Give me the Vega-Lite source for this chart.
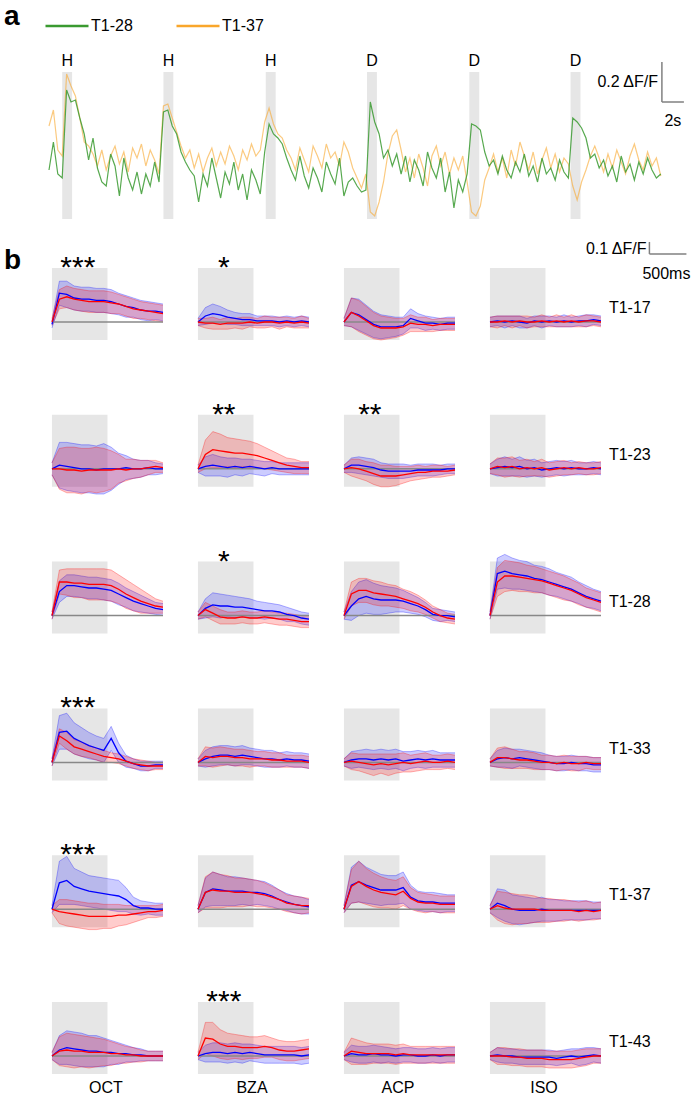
{
"$schema":"https://vega.github.io/schema/vega-lite/v6.json",
"padding":{"left":3,"top":2,"right":0,"bottom":0},
"background":"white",
"config":{"view":{"stroke":null},"font":"Liberation Sans","axis":{"disable":true}},
"bounds":"flush",
"spacing":42.4,
"vconcat":[
{
"width":614,"height":180,
"layer":[
{"data":{"values":[{"s":1.2,"e":2.1,"l":"H"},{"s":10.4,"e":11.3,"l":"H"},{"s":19.7,"e":20.6,"l":"H"},{"s":28.9,"e":29.8,"l":"D"},{"s":38.2,"e":39.1,"l":"D"},{"s":47.4,"e":48.3,"l":"D"}]},
"layer":[
{"mark":{"type":"rect","color":"#e6e6e6"},"encoding":{"x":{"field":"s","type":"quantitative","scale":{"domain":[0,55.8],"nice":false,"zero":false},"axis":null},"x2":{"field":"e"},"y":{"datum":45,"type":"quantitative","scale":{"domain":[-30,60],"nice":false,"zero":false},"axis":null},"y2":{"datum":-28.5}}},
{"mark":{"type":"text","fontSize":16,"dx":5,"align":"center","baseline":"alphabetic","color":"#000"},"encoding":{"x":{"field":"s","type":"quantitative","scale":{"domain":[0,55.8],"nice":false,"zero":false},"axis":null},"y":{"datum":48,"type":"quantitative","scale":{"domain":[-30,60],"nice":false,"zero":false},"axis":null},"text":{"field":"l"}}}
]},
{"data":{"values":[
{"t":0,"g":-4,"o":18},{"t":0.4,"g":10,"o":26},{"t":0.8,"g":-6,"o":6},{"t":1.2,"g":-8,"o":3},{"t":1.6,"g":36,"o":44},{"t":2,"g":30,"o":38},{"t":2.4,"g":31,"o":33},{"t":2.8,"g":22,"o":22},{"t":3.2,"g":14,"o":10},{"t":3.6,"g":1,"o":8},
{"t":4,"g":12,"o":4},{"t":4.4,"g":-3,"o":-2},{"t":4.8,"g":-10,"o":6},{"t":5.2,"g":-12,"o":-4},{"t":5.6,"g":4,"o":3},{"t":6,"g":-2,"o":8},{"t":6.4,"g":-17,"o":-1},{"t":6.8,"g":2,"o":5},{"t":7.2,"g":-8,"o":-5},{"t":7.6,"g":-14,"o":7},
{"t":8,"g":-5,"o":2},{"t":8.4,"g":-16,"o":9},{"t":8.8,"g":-6,"o":-2},{"t":9.2,"g":-12,"o":6},{"t":9.6,"g":0,"o":1},{"t":10,"g":-10,"o":-6},{"t":10.4,"g":25,"o":28},{"t":10.8,"g":26,"o":29},{"t":11.2,"g":18,"o":22},{"t":11.6,"g":14,"o":15},
{"t":12,"g":5,"o":8},{"t":12.4,"g":0,"o":2},{"t":12.8,"g":-4,"o":6},{"t":13.2,"g":-7,"o":-3},{"t":13.6,"g":-20,"o":4},{"t":14,"g":-6,"o":-5},{"t":14.4,"g":-12,"o":2},{"t":14.8,"g":2,"o":7},{"t":15.2,"g":-8,"o":-2},{"t":15.6,"g":-18,"o":5},
{"t":16,"g":-5,"o":-1},{"t":16.4,"g":-11,"o":8},{"t":16.8,"g":0,"o":3},{"t":17.2,"g":-14,"o":-4},{"t":17.6,"g":-6,"o":6},{"t":18,"g":-19,"o":1},{"t":18.4,"g":-4,"o":9},{"t":18.8,"g":-9,"o":3},{"t":19.2,"g":-16,"o":6},{"t":19.6,"g":5,"o":20},
{"t":20,"g":19,"o":27},{"t":20.4,"g":14,"o":19},{"t":20.8,"g":12,"o":14},{"t":21.2,"g":9,"o":12},{"t":21.6,"g":2,"o":6},{"t":22,"g":-4,"o":2},{"t":22.4,"g":-9,"o":-4},{"t":22.8,"g":3,"o":7},{"t":23.2,"g":-7,"o":1},{"t":23.6,"g":-13,"o":-5},
{"t":24,"g":-3,"o":8},{"t":24.4,"g":-8,"o":3},{"t":24.8,"g":-15,"o":-3},{"t":25.2,"g":0,"o":9},{"t":25.6,"g":-6,"o":2},{"t":26,"g":-11,"o":5},{"t":26.4,"g":2,"o":-2},{"t":26.8,"g":-17,"o":10},{"t":27.2,"g":-10,"o":5},{"t":27.6,"g":-8,"o":-3},
{"t":28,"g":-12,"o":-8},{"t":28.4,"g":-15,"o":-13},{"t":28.8,"g":-14,"o":-6},{"t":29.2,"g":30,"o":-25},{"t":29.6,"g":20,"o":-27},{"t":30,"g":14,"o":-20},{"t":30.4,"g":2,"o":-10},{"t":30.8,"g":6,"o":4},{"t":31.2,"g":-2,"o":13},{"t":31.6,"g":4,"o":16},
{"t":32,"g":-6,"o":6},{"t":32.4,"g":3,"o":-5},{"t":32.8,"g":-10,"o":2},{"t":33.2,"g":1,"o":-8},{"t":33.6,"g":-4,"o":4},{"t":34,"g":-12,"o":-3},{"t":34.4,"g":5,"o":-12},{"t":34.8,"g":-3,"o":3},{"t":35.2,"g":-8,"o":8},{"t":35.6,"g":2,"o":-2},
{"t":36,"g":-15,"o":5},{"t":36.4,"g":-5,"o":-6},{"t":36.8,"g":-23,"o":2},{"t":37.2,"g":-9,"o":-4},{"t":37.6,"g":-15,"o":3},{"t":38,"g":-6,"o":-10},{"t":38.4,"g":19,"o":-25},{"t":38.8,"g":18,"o":-27},{"t":39.2,"g":16,"o":-22},{"t":39.6,"g":5,"o":-9},
{"t":40,"g":-2,"o":-3},{"t":40.4,"g":1,"o":4},{"t":40.8,"g":-6,"o":-5},{"t":41.2,"g":3,"o":2},{"t":41.6,"g":-4,"o":-8},{"t":42,"g":-8,"o":6},{"t":42.4,"g":0,"o":-2},{"t":42.8,"g":-5,"o":10},{"t":43.2,"g":4,"o":3},{"t":43.6,"g":-7,"o":-4},
{"t":44,"g":-2,"o":5},{"t":44.4,"g":-10,"o":-6},{"t":44.8,"g":2,"o":1},{"t":45.2,"g":-6,"o":7},{"t":45.6,"g":-3,"o":-3},{"t":46,"g":-9,"o":4},{"t":46.4,"g":1,"o":-5},{"t":46.8,"g":-5,"o":2},{"t":47.2,"g":-8,"o":-1},{"t":47.6,"g":22,"o":-12},
{"t":48,"g":20,"o":-19},{"t":48.4,"g":17,"o":-10},{"t":48.8,"g":12,"o":-4},{"t":49.2,"g":2,"o":3},{"t":49.6,"g":4,"o":8},{"t":50,"g":-3,"o":2},{"t":50.4,"g":1,"o":-5},{"t":50.8,"g":-7,"o":4},{"t":51.2,"g":-2,"o":-3},{"t":51.6,"g":-10,"o":6},
{"t":52,"g":3,"o":0},{"t":52.4,"g":-5,"o":-6},{"t":52.8,"g":-1,"o":3},{"t":53.2,"g":-9,"o":9},{"t":53.6,"g":0,"o":1},{"t":54,"g":-6,"o":-4},{"t":54.4,"g":2,"o":5},{"t":54.8,"g":-4,"o":-2},{"t":55.2,"g":-8,"o":2},{"t":55.6,"g":-6,"o":-7}
]},
"layer":[
{"mark":{"type":"line","strokeWidth":1.2,"opacity":0.6},"encoding":{"x":{"field":"t","type":"quantitative","scale":{"domain":[0,55.8],"nice":false,"zero":false},"axis":null},"y":{"field":"o","type":"quantitative","scale":{"domain":[-30,60],"nice":false,"zero":false},"axis":null},"color":{"datum":"T1-37","type":"nominal","scale":{"domain":["T1-28","T1-37"],"range":["#3a9a30","#f9a62b"]},"legend":{"orient":"none","legendX":-5,"legendY":-39,"direction":"horizontal","title":null,"symbolType":"stroke","symbolSize":1849,"symbolStrokeWidth":2.5,"symbolOpacity":1,"labelFontSize":16,"labelColor":"#000","labelOffset":1,"columnPadding":38,"padding":0}}}},
{"mark":{"type":"line","strokeWidth":1.2,"opacity":0.85},"encoding":{"x":{"field":"t","type":"quantitative","scale":{"domain":[0,55.8],"nice":false,"zero":false},"axis":null},"y":{"field":"g","type":"quantitative","scale":{"domain":[-30,60],"nice":false,"zero":false},"axis":null},"color":{"datum":"T1-28","type":"nominal","scale":{"domain":["T1-28","T1-37"],"range":["#3a9a30","#f9a62b"]},"legend":{"orient":"none","legendX":-5,"legendY":-39,"direction":"horizontal","title":null,"symbolType":"stroke","symbolSize":1849,"symbolStrokeWidth":2.5,"symbolOpacity":1,"labelFontSize":16,"labelColor":"#000","labelOffset":1,"columnPadding":38,"padding":0}}}}
]},
{"data":{"values":[{}]},
"layer":[
{"mark":{"type":"rule","color":"#808080","strokeWidth":1.5},"encoding":{"x":{"datum":55.7,"type":"quantitative","scale":{"domain":[0,55.8],"nice":false,"zero":false},"axis":null},"y":{"datum":30,"type":"quantitative","scale":{"domain":[-30,60],"nice":false,"zero":false},"axis":null},"y2":{"datum":50}}},
{"mark":{"type":"rule","color":"#808080","strokeWidth":1.5},"encoding":{"x":{"datum":55.7,"type":"quantitative","scale":{"domain":[0,55.8],"nice":false,"zero":false},"axis":null},"x2":{"datum":57.7},"y":{"datum":30,"type":"quantitative","scale":{"domain":[-30,60],"nice":false,"zero":false},"axis":null}}},
{"mark":{"type":"text","fontSize":16,"align":"right","baseline":"middle","dx":-4,"color":"#000"},"encoding":{"x":{"datum":55.7,"type":"quantitative","scale":{"domain":[0,55.8],"nice":false,"zero":false},"axis":null},"y":{"datum":40,"type":"quantitative","scale":{"domain":[-30,60],"nice":false,"zero":false},"axis":null},"text":{"value":"0.2 ΔF/F"}}},
{"mark":{"type":"text","fontSize":16,"align":"center","baseline":"middle","color":"#000"},"encoding":{"x":{"datum":56.7,"type":"quantitative","scale":{"domain":[0,55.8],"nice":false,"zero":false},"axis":null},"y":{"datum":20.5,"type":"quantitative","scale":{"domain":[-30,60],"nice":false,"zero":false},"axis":null},"text":{"value":"2s"}}},
{"mark":{"type":"text","fontSize":28,"fontWeight":"bold","align":"left","baseline":"alphabetic","color":"#000"},"encoding":{"x":{"datum":-4.09,"type":"quantitative","scale":{"domain":[0,55.8],"nice":false,"zero":false},"axis":null},"y":{"datum":68.5,"type":"quantitative","scale":{"domain":[-30,60],"nice":false,"zero":false},"axis":null},"text":{"value":"a"}}}
]}
]
},
{
"data":{"values":[
{"c":"OCT","n":"T1-17","t":0,"bm":-2,"be":3,"rm":0,"re":3,"s":"***"},{"c":"OCT","n":"T1-17","t":100,"bm":24,"be":10,"rm":19,"re":8},{"c":"OCT","n":"T1-17","t":200,"bm":23,"be":11,"rm":21,"re":9},{"c":"OCT","n":"T1-17","t":300,"bm":20,"be":10,"rm":19,"re":9},{"c":"OCT","n":"T1-17","t":400,"bm":19,"be":10,"rm":18,"re":9},{"c":"OCT","n":"T1-17","t":500,"bm":19,"be":10,"rm":17,"re":9},{"c":"OCT","n":"T1-17","t":600,"bm":18,"be":10,"rm":17,"re":9},{"c":"OCT","n":"T1-17","t":700,"bm":18,"be":10,"rm":17,"re":9},{"c":"OCT","n":"T1-17","t":800,"bm":17,"be":10,"rm":16,"re":9},{"c":"OCT","n":"T1-17","t":900,"bm":15,"be":9,"rm":15,"re":8},{"c":"OCT","n":"T1-17","t":1000,"bm":13,"be":9,"rm":13,"re":8},{"c":"OCT","n":"T1-17","t":1100,"bm":12,"be":8,"rm":11,"re":8},{"c":"OCT","n":"T1-17","t":1200,"bm":10,"be":8,"rm":10,"re":7},{"c":"OCT","n":"T1-17","t":1300,"bm":9,"be":8,"rm":9,"re":7},{"c":"OCT","n":"T1-17","t":1400,"bm":9,"be":7,"rm":8,"re":7},{"c":"OCT","n":"T1-17","t":1500,"bm":8,"be":7,"rm":7,"re":7},
{"c":"BZA","n":"T1-17","t":0,"bm":0,"be":3,"rm":0,"re":3,"s":"*"},{"c":"BZA","n":"T1-17","t":100,"bm":5,"be":7,"rm":-1,"re":4},{"c":"BZA","n":"T1-17","t":200,"bm":7,"be":8,"rm":-1,"re":5},{"c":"BZA","n":"T1-17","t":300,"bm":6,"be":7,"rm":-2,"re":4},{"c":"BZA","n":"T1-17","t":400,"bm":4,"be":6,"rm":-1,"re":5},{"c":"BZA","n":"T1-17","t":500,"bm":3,"be":5,"rm":-1,"re":4},{"c":"BZA","n":"T1-17","t":600,"bm":2,"be":5,"rm":-1,"re":5},{"c":"BZA","n":"T1-17","t":700,"bm":2,"be":5,"rm":0,"re":4},{"c":"BZA","n":"T1-17","t":800,"bm":1,"be":4,"rm":-1,"re":4},{"c":"BZA","n":"T1-17","t":900,"bm":1,"be":4,"rm":0,"re":5},{"c":"BZA","n":"T1-17","t":1000,"bm":1,"be":4,"rm":0,"re":4},{"c":"BZA","n":"T1-17","t":1100,"bm":0,"be":4,"rm":-1,"re":5},{"c":"BZA","n":"T1-17","t":1200,"bm":1,"be":4,"rm":0,"re":4},{"c":"BZA","n":"T1-17","t":1300,"bm":0,"be":4,"rm":-1,"re":4},{"c":"BZA","n":"T1-17","t":1400,"bm":1,"be":4,"rm":0,"re":5},{"c":"BZA","n":"T1-17","t":1500,"bm":0,"be":4,"rm":-1,"re":4},
{"c":"ACP","n":"T1-17","t":0,"bm":0,"be":3,"rm":0,"re":3},{"c":"ACP","n":"T1-17","t":100,"bm":8,"be":12,"rm":8,"re":12},{"c":"ACP","n":"T1-17","t":200,"bm":6,"be":13,"rm":5,"re":13},{"c":"ACP","n":"T1-17","t":300,"bm":2,"be":12,"rm":1,"re":12},{"c":"ACP","n":"T1-17","t":400,"bm":-2,"be":11,"rm":-3,"re":11},{"c":"ACP","n":"T1-17","t":500,"bm":-4,"be":10,"rm":-5,"re":10},{"c":"ACP","n":"T1-17","t":600,"bm":-4,"be":9,"rm":-5,"re":9},{"c":"ACP","n":"T1-17","t":700,"bm":-4,"be":8,"rm":-5,"re":8},{"c":"ACP","n":"T1-17","t":800,"bm":-3,"be":7,"rm":-4,"re":7},{"c":"ACP","n":"T1-17","t":900,"bm":3,"be":8,"rm":-1,"re":7},{"c":"ACP","n":"T1-17","t":1000,"bm":1,"be":6,"rm":-2,"re":6},{"c":"ACP","n":"T1-17","t":1100,"bm":-1,"be":6,"rm":-2,"re":6},{"c":"ACP","n":"T1-17","t":1200,"bm":-1,"be":5,"rm":-3,"re":5},{"c":"ACP","n":"T1-17","t":1300,"bm":-2,"be":5,"rm":-2,"re":5},{"c":"ACP","n":"T1-17","t":1400,"bm":-1,"be":5,"rm":-2,"re":5},{"c":"ACP","n":"T1-17","t":1500,"bm":-1,"be":5,"rm":-2,"re":5},
{"c":"ISO","n":"T1-17","t":0,"bm":0,"be":4,"rm":0,"re":4},{"c":"ISO","n":"T1-17","t":100,"bm":1,"be":4,"rm":0,"re":5},{"c":"ISO","n":"T1-17","t":200,"bm":0,"be":5,"rm":1,"re":4},{"c":"ISO","n":"T1-17","t":300,"bm":1,"be":4,"rm":0,"re":5},{"c":"ISO","n":"T1-17","t":400,"bm":0,"be":5,"rm":1,"re":4},{"c":"ISO","n":"T1-17","t":500,"bm":-1,"be":4,"rm":0,"re":5},{"c":"ISO","n":"T1-17","t":600,"bm":1,"be":4,"rm":0,"re":4},{"c":"ISO","n":"T1-17","t":700,"bm":0,"be":5,"rm":1,"re":5},{"c":"ISO","n":"T1-17","t":800,"bm":1,"be":4,"rm":0,"re":4},{"c":"ISO","n":"T1-17","t":900,"bm":0,"be":4,"rm":1,"re":5},{"c":"ISO","n":"T1-17","t":1000,"bm":1,"be":5,"rm":0,"re":4},{"c":"ISO","n":"T1-17","t":1100,"bm":0,"be":4,"rm":1,"re":5},{"c":"ISO","n":"T1-17","t":1200,"bm":1,"be":4,"rm":0,"re":4},{"c":"ISO","n":"T1-17","t":1300,"bm":1,"be":5,"rm":1,"re":5},{"c":"ISO","n":"T1-17","t":1400,"bm":2,"be":4,"rm":1,"re":4},{"c":"ISO","n":"T1-17","t":1500,"bm":1,"be":4,"rm":0,"re":4},
{"c":"OCT","n":"T1-23","t":0,"bm":0,"be":5,"rm":0,"re":5},{"c":"OCT","n":"T1-23","t":100,"bm":3,"be":19,"rm":0,"re":17},{"c":"OCT","n":"T1-23","t":200,"bm":2,"be":20,"rm":-1,"re":19},{"c":"OCT","n":"T1-23","t":300,"bm":1,"be":20,"rm":-1,"re":19},{"c":"OCT","n":"T1-23","t":400,"bm":0,"be":20,"rm":-2,"re":19},{"c":"OCT","n":"T1-23","t":500,"bm":0,"be":20,"rm":-1,"re":18},{"c":"OCT","n":"T1-23","t":600,"bm":-1,"be":20,"rm":-1,"re":19},{"c":"OCT","n":"T1-23","t":700,"bm":0,"be":21,"rm":-1,"re":18},{"c":"OCT","n":"T1-23","t":800,"bm":0,"be":18,"rm":-1,"re":16},{"c":"OCT","n":"T1-23","t":900,"bm":0,"be":13,"rm":0,"re":12},{"c":"OCT","n":"T1-23","t":1000,"bm":1,"be":10,"rm":-1,"re":9},{"c":"OCT","n":"T1-23","t":1100,"bm":0,"be":8,"rm":0,"re":8},{"c":"OCT","n":"T1-23","t":1200,"bm":0,"be":7,"rm":0,"re":7},{"c":"OCT","n":"T1-23","t":1300,"bm":1,"be":6,"rm":1,"re":6},{"c":"OCT","n":"T1-23","t":1400,"bm":0,"be":5,"rm":2,"re":5},{"c":"OCT","n":"T1-23","t":1500,"bm":0,"be":4,"rm":1,"re":4},
{"c":"BZA","n":"T1-23","t":0,"bm":0,"be":3,"rm":0,"re":3,"s":"**"},{"c":"BZA","n":"T1-23","t":100,"bm":2,"be":8,"rm":12,"re":12},{"c":"BZA","n":"T1-23","t":200,"bm":3,"be":9,"rm":16,"re":15},{"c":"BZA","n":"T1-23","t":300,"bm":2,"be":8,"rm":15,"re":14},{"c":"BZA","n":"T1-23","t":400,"bm":1,"be":8,"rm":14,"re":12},{"c":"BZA","n":"T1-23","t":500,"bm":2,"be":7,"rm":13,"re":12},{"c":"BZA","n":"T1-23","t":600,"bm":1,"be":7,"rm":13,"re":11},{"c":"BZA","n":"T1-23","t":700,"bm":2,"be":6,"rm":12,"re":11},{"c":"BZA","n":"T1-23","t":800,"bm":1,"be":6,"rm":11,"re":10},{"c":"BZA","n":"T1-23","t":900,"bm":0,"be":6,"rm":9,"re":9},{"c":"BZA","n":"T1-23","t":1000,"bm":1,"be":5,"rm":7,"re":8},{"c":"BZA","n":"T1-23","t":1100,"bm":0,"be":5,"rm":5,"re":7},{"c":"BZA","n":"T1-23","t":1200,"bm":0,"be":5,"rm":3,"re":6},{"c":"BZA","n":"T1-23","t":1300,"bm":0,"be":5,"rm":2,"re":6},{"c":"BZA","n":"T1-23","t":1400,"bm":0,"be":5,"rm":1,"re":5},{"c":"BZA","n":"T1-23","t":1500,"bm":0,"be":5,"rm":1,"re":5},
{"c":"ACP","n":"T1-23","t":0,"bm":0,"be":3,"rm":0,"re":3,"s":"**"},{"c":"ACP","n":"T1-23","t":100,"bm":3,"be":6,"rm":1,"re":7},{"c":"ACP","n":"T1-23","t":200,"bm":3,"be":7,"rm":0,"re":8},{"c":"ACP","n":"T1-23","t":300,"bm":2,"be":7,"rm":-2,"re":8},{"c":"ACP","n":"T1-23","t":400,"bm":1,"be":7,"rm":-4,"re":9},{"c":"ACP","n":"T1-23","t":500,"bm":-1,"be":6,"rm":-6,"re":9},{"c":"ACP","n":"T1-23","t":600,"bm":-2,"be":6,"rm":-6,"re":9},{"c":"ACP","n":"T1-23","t":700,"bm":-2,"be":6,"rm":-6,"re":8},{"c":"ACP","n":"T1-23","t":800,"bm":-2,"be":6,"rm":-5,"re":7},{"c":"ACP","n":"T1-23","t":900,"bm":-2,"be":5,"rm":-4,"re":6},{"c":"ACP","n":"T1-23","t":1000,"bm":-1,"be":5,"rm":-3,"re":6},{"c":"ACP","n":"T1-23","t":1100,"bm":-1,"be":5,"rm":-3,"re":5},{"c":"ACP","n":"T1-23","t":1200,"bm":-1,"be":5,"rm":-2,"re":5},{"c":"ACP","n":"T1-23","t":1300,"bm":-1,"be":4,"rm":-2,"re":5},{"c":"ACP","n":"T1-23","t":1400,"bm":0,"be":4,"rm":-2,"re":4},{"c":"ACP","n":"T1-23","t":1500,"bm":0,"be":4,"rm":-1,"re":4},
{"c":"ISO","n":"T1-23","t":0,"bm":0,"be":4,"rm":0,"re":4},{"c":"ISO","n":"T1-23","t":100,"bm":1,"be":7,"rm":2,"re":7},{"c":"ISO","n":"T1-23","t":200,"bm":2,"be":8,"rm":1,"re":8},{"c":"ISO","n":"T1-23","t":300,"bm":1,"be":7,"rm":2,"re":8},{"c":"ISO","n":"T1-23","t":400,"bm":2,"be":8,"rm":0,"re":7},{"c":"ISO","n":"T1-23","t":500,"bm":0,"be":7,"rm":1,"re":7},{"c":"ISO","n":"T1-23","t":600,"bm":1,"be":7,"rm":0,"re":6},{"c":"ISO","n":"T1-23","t":700,"bm":-1,"be":6,"rm":1,"re":7},{"c":"ISO","n":"T1-23","t":800,"bm":0,"be":6,"rm":-1,"re":6},{"c":"ISO","n":"T1-23","t":900,"bm":1,"be":6,"rm":0,"re":6},{"c":"ISO","n":"T1-23","t":1000,"bm":0,"be":6,"rm":1,"re":6},{"c":"ISO","n":"T1-23","t":1100,"bm":1,"be":6,"rm":0,"re":5},{"c":"ISO","n":"T1-23","t":1200,"bm":0,"be":5,"rm":1,"re":5},{"c":"ISO","n":"T1-23","t":1300,"bm":0,"be":5,"rm":0,"re":5},{"c":"ISO","n":"T1-23","t":1400,"bm":1,"be":5,"rm":0,"re":5},{"c":"ISO","n":"T1-23","t":1500,"bm":0,"be":5,"rm":1,"re":5},
{"c":"OCT","n":"T1-28","t":0,"bm":0,"be":3,"rm":0,"re":3},{"c":"OCT","n":"T1-28","t":100,"bm":20,"be":9,"rm":28,"re":10},{"c":"OCT","n":"T1-28","t":200,"bm":25,"be":9,"rm":28,"re":11},{"c":"OCT","n":"T1-28","t":300,"bm":25,"be":9,"rm":27,"re":12},{"c":"OCT","n":"T1-28","t":400,"bm":24,"be":9,"rm":27,"re":12},{"c":"OCT","n":"T1-28","t":500,"bm":23,"be":9,"rm":26,"re":13},{"c":"OCT","n":"T1-28","t":600,"bm":23,"be":9,"rm":26,"re":13},{"c":"OCT","n":"T1-28","t":700,"bm":22,"be":9,"rm":26,"re":13},{"c":"OCT","n":"T1-28","t":800,"bm":21,"be":9,"rm":25,"re":13},{"c":"OCT","n":"T1-28","t":900,"bm":18,"be":9,"rm":22,"re":12},{"c":"OCT","n":"T1-28","t":1000,"bm":15,"be":8,"rm":18,"re":12},{"c":"OCT","n":"T1-28","t":1100,"bm":12,"be":8,"rm":15,"re":11},{"c":"OCT","n":"T1-28","t":1200,"bm":10,"be":7,"rm":12,"re":10},{"c":"OCT","n":"T1-28","t":1300,"bm":8,"be":6,"rm":10,"re":8},{"c":"OCT","n":"T1-28","t":1400,"bm":6,"be":5,"rm":8,"re":6},{"c":"OCT","n":"T1-28","t":1500,"bm":5,"be":5,"rm":7,"re":5},
{"c":"BZA","n":"T1-28","t":0,"bm":0,"be":3,"rm":0,"re":3,"s":"*"},{"c":"BZA","n":"T1-28","t":100,"bm":6,"be":8,"rm":5,"re":6},{"c":"BZA","n":"T1-28","t":200,"bm":9,"be":10,"rm":2,"re":6},{"c":"BZA","n":"T1-28","t":300,"bm":8,"be":10,"rm":-1,"re":6},{"c":"BZA","n":"T1-28","t":400,"bm":8,"be":9,"rm":-2,"re":5},{"c":"BZA","n":"T1-28","t":500,"bm":7,"be":9,"rm":-2,"re":5},{"c":"BZA","n":"T1-28","t":600,"bm":7,"be":8,"rm":-1,"re":5},{"c":"BZA","n":"T1-28","t":700,"bm":6,"be":8,"rm":-2,"re":5},{"c":"BZA","n":"T1-28","t":800,"bm":5,"be":7,"rm":-2,"re":5},{"c":"BZA","n":"T1-28","t":900,"bm":4,"be":7,"rm":-1,"re":5},{"c":"BZA","n":"T1-28","t":1000,"bm":4,"be":6,"rm":-2,"re":5},{"c":"BZA","n":"T1-28","t":1100,"bm":3,"be":6,"rm":-3,"re":5},{"c":"BZA","n":"T1-28","t":1200,"bm":1,"be":6,"rm":-3,"re":5},{"c":"BZA","n":"T1-28","t":1300,"bm":0,"be":5,"rm":-4,"re":5},{"c":"BZA","n":"T1-28","t":1400,"bm":-2,"be":5,"rm":-5,"re":5},{"c":"BZA","n":"T1-28","t":1500,"bm":-3,"be":5,"rm":-5,"re":5},
{"c":"ACP","n":"T1-28","t":0,"bm":0,"be":3,"rm":0,"re":3},{"c":"ACP","n":"T1-28","t":100,"bm":8,"be":12,"rm":18,"re":10},{"c":"ACP","n":"T1-28","t":200,"bm":14,"be":14,"rm":21,"re":10},{"c":"ACP","n":"T1-28","t":300,"bm":16,"be":14,"rm":21,"re":10},{"c":"ACP","n":"T1-28","t":400,"bm":14,"be":13,"rm":19,"re":10},{"c":"ACP","n":"T1-28","t":500,"bm":13,"be":12,"rm":18,"re":10},{"c":"ACP","n":"T1-28","t":600,"bm":13,"be":11,"rm":17,"re":9},{"c":"ACP","n":"T1-28","t":700,"bm":13,"be":10,"rm":16,"re":9},{"c":"ACP","n":"T1-28","t":800,"bm":12,"be":9,"rm":14,"re":8},{"c":"ACP","n":"T1-28","t":900,"bm":10,"be":8,"rm":12,"re":8},{"c":"ACP","n":"T1-28","t":1000,"bm":8,"be":7,"rm":10,"re":7},{"c":"ACP","n":"T1-28","t":1100,"bm":5,"be":6,"rm":7,"re":6},{"c":"ACP","n":"T1-28","t":1200,"bm":1,"be":5,"rm":3,"re":5},{"c":"ACP","n":"T1-28","t":1300,"bm":0,"be":5,"rm":0,"re":5},{"c":"ACP","n":"T1-28","t":1400,"bm":0,"be":4,"rm":-2,"re":4},{"c":"ACP","n":"T1-28","t":1500,"bm":-1,"be":4,"rm":-3,"re":4},
{"c":"ISO","n":"T1-28","t":0,"bm":0,"be":3,"rm":0,"re":3},{"c":"ISO","n":"T1-28","t":100,"bm":35,"be":13,"rm":28,"re":12},{"c":"ISO","n":"T1-28","t":200,"bm":37,"be":14,"rm":33,"re":13},{"c":"ISO","n":"T1-28","t":300,"bm":35,"be":13,"rm":33,"re":12},{"c":"ISO","n":"T1-28","t":400,"bm":34,"be":12,"rm":32,"re":12},{"c":"ISO","n":"T1-28","t":500,"bm":33,"be":12,"rm":31,"re":11},{"c":"ISO","n":"T1-28","t":600,"bm":31,"be":11,"rm":30,"re":11},{"c":"ISO","n":"T1-28","t":700,"bm":30,"be":11,"rm":29,"re":10},{"c":"ISO","n":"T1-28","t":800,"bm":28,"be":11,"rm":27,"re":10},{"c":"ISO","n":"T1-28","t":900,"bm":26,"be":10,"rm":25,"re":10},{"c":"ISO","n":"T1-28","t":1000,"bm":24,"be":10,"rm":23,"re":10},{"c":"ISO","n":"T1-28","t":1100,"bm":22,"be":10,"rm":21,"re":9},{"c":"ISO","n":"T1-28","t":1200,"bm":19,"be":9,"rm":18,"re":9},{"c":"ISO","n":"T1-28","t":1300,"bm":16,"be":9,"rm":15,"re":8},{"c":"ISO","n":"T1-28","t":1400,"bm":14,"be":8,"rm":13,"re":8},{"c":"ISO","n":"T1-28","t":1500,"bm":12,"be":8,"rm":11,"re":8},
{"c":"OCT","n":"T1-33","t":0,"bm":0,"be":3,"rm":0,"re":3,"s":"***"},{"c":"OCT","n":"T1-33","t":100,"bm":25,"be":14,"rm":22,"re":6},{"c":"OCT","n":"T1-33","t":200,"bm":26,"be":15,"rm":18,"re":7},{"c":"OCT","n":"T1-33","t":300,"bm":20,"be":13,"rm":13,"re":6},{"c":"OCT","n":"T1-33","t":400,"bm":17,"be":12,"rm":11,"re":6},{"c":"OCT","n":"T1-33","t":500,"bm":14,"be":11,"rm":9,"re":5},{"c":"OCT","n":"T1-33","t":600,"bm":12,"be":10,"rm":7,"re":5},{"c":"OCT","n":"T1-33","t":700,"bm":10,"be":10,"rm":5,"re":5},{"c":"OCT","n":"T1-33","t":800,"bm":20,"be":10,"rm":4,"re":4},{"c":"OCT","n":"T1-33","t":900,"bm":8,"be":8,"rm":3,"re":4},{"c":"OCT","n":"T1-33","t":1000,"bm":1,"be":5,"rm":1,"re":4},{"c":"OCT","n":"T1-33","t":1100,"bm":-1,"be":4,"rm":-1,"re":4},{"c":"OCT","n":"T1-33","t":1200,"bm":-3,"be":4,"rm":-2,"re":4},{"c":"OCT","n":"T1-33","t":1300,"bm":-3,"be":4,"rm":-3,"re":4},{"c":"OCT","n":"T1-33","t":1400,"bm":-2,"be":3,"rm":-3,"re":3},{"c":"OCT","n":"T1-33","t":1500,"bm":-2,"be":3,"rm":-3,"re":3},
{"c":"BZA","n":"T1-33","t":0,"bm":0,"be":3,"rm":0,"re":3},{"c":"BZA","n":"T1-33","t":100,"bm":3,"be":7,"rm":5,"re":8},{"c":"BZA","n":"T1-33","t":200,"bm":5,"be":8,"rm":4,"re":8},{"c":"BZA","n":"T1-33","t":300,"bm":6,"be":8,"rm":5,"re":8},{"c":"BZA","n":"T1-33","t":400,"bm":6,"be":8,"rm":5,"re":7},{"c":"BZA","n":"T1-33","t":500,"bm":5,"be":8,"rm":4,"re":7},{"c":"BZA","n":"T1-33","t":600,"bm":6,"be":8,"rm":4,"re":7},{"c":"BZA","n":"T1-33","t":700,"bm":5,"be":7,"rm":3,"re":7},{"c":"BZA","n":"T1-33","t":800,"bm":4,"be":7,"rm":3,"re":6},{"c":"BZA","n":"T1-33","t":900,"bm":3,"be":7,"rm":3,"re":6},{"c":"BZA","n":"T1-33","t":1000,"bm":3,"be":7,"rm":2,"re":6},{"c":"BZA","n":"T1-33","t":1100,"bm":2,"be":6,"rm":2,"re":6},{"c":"BZA","n":"T1-33","t":1200,"bm":3,"be":6,"rm":1,"re":5},{"c":"BZA","n":"T1-33","t":1300,"bm":2,"be":6,"rm":1,"re":5},{"c":"BZA","n":"T1-33","t":1400,"bm":2,"be":6,"rm":1,"re":5},{"c":"BZA","n":"T1-33","t":1500,"bm":1,"be":6,"rm":0,"re":5},
{"c":"ACP","n":"T1-33","t":0,"bm":0,"be":3,"rm":0,"re":3},{"c":"ACP","n":"T1-33","t":100,"bm":2,"be":7,"rm":1,"re":7},{"c":"ACP","n":"T1-33","t":200,"bm":3,"be":7,"rm":0,"re":7},{"c":"ACP","n":"T1-33","t":300,"bm":3,"be":8,"rm":-1,"re":8},{"c":"ACP","n":"T1-33","t":400,"bm":2,"be":8,"rm":-2,"re":9},{"c":"ACP","n":"T1-33","t":500,"bm":3,"be":8,"rm":-1,"re":8},{"c":"ACP","n":"T1-33","t":600,"bm":2,"be":8,"rm":-2,"re":9},{"c":"ACP","n":"T1-33","t":700,"bm":3,"be":8,"rm":-1,"re":8},{"c":"ACP","n":"T1-33","t":800,"bm":1,"be":8,"rm":0,"re":8},{"c":"ACP","n":"T1-33","t":900,"bm":2,"be":7,"rm":-1,"re":7},{"c":"ACP","n":"T1-33","t":1000,"bm":3,"be":7,"rm":0,"re":7},{"c":"ACP","n":"T1-33","t":1100,"bm":2,"be":7,"rm":1,"re":7},{"c":"ACP","n":"T1-33","t":1200,"bm":3,"be":7,"rm":0,"re":6},{"c":"ACP","n":"T1-33","t":1300,"bm":2,"be":6,"rm":0,"re":6},{"c":"ACP","n":"T1-33","t":1400,"bm":2,"be":6,"rm":1,"re":6},{"c":"ACP","n":"T1-33","t":1500,"bm":2,"be":6,"rm":0,"re":6},
{"c":"ISO","n":"T1-33","t":0,"bm":0,"be":3,"rm":0,"re":3},{"c":"ISO","n":"T1-33","t":100,"bm":3,"be":7,"rm":4,"re":8},{"c":"ISO","n":"T1-33","t":200,"bm":4,"be":8,"rm":4,"re":9},{"c":"ISO","n":"T1-33","t":300,"bm":3,"be":8,"rm":3,"re":8},{"c":"ISO","n":"T1-33","t":400,"bm":4,"be":7,"rm":2,"re":7},{"c":"ISO","n":"T1-33","t":500,"bm":3,"be":7,"rm":2,"re":7},{"c":"ISO","n":"T1-33","t":600,"bm":2,"be":7,"rm":1,"re":7},{"c":"ISO","n":"T1-33","t":700,"bm":1,"be":7,"rm":0,"re":6},{"c":"ISO","n":"T1-33","t":800,"bm":0,"be":6,"rm":0,"re":6},{"c":"ISO","n":"T1-33","t":900,"bm":-1,"be":6,"rm":-1,"re":6},{"c":"ISO","n":"T1-33","t":1000,"bm":-1,"be":6,"rm":0,"re":6},{"c":"ISO","n":"T1-33","t":1100,"bm":0,"be":6,"rm":-1,"re":6},{"c":"ISO","n":"T1-33","t":1200,"bm":-1,"be":6,"rm":-1,"re":6},{"c":"ISO","n":"T1-33","t":1300,"bm":-1,"be":6,"rm":0,"re":5},{"c":"ISO","n":"T1-33","t":1400,"bm":-2,"be":6,"rm":-1,"re":5},{"c":"ISO","n":"T1-33","t":1500,"bm":-2,"be":6,"rm":-1,"re":5},
{"c":"OCT","n":"T1-37","t":0,"bm":0,"be":3,"rm":0,"re":3,"s":"***"},{"c":"OCT","n":"T1-37","t":100,"bm":22,"be":18,"rm":-2,"re":10},{"c":"OCT","n":"T1-37","t":200,"bm":24,"be":20,"rm":-3,"re":11},{"c":"OCT","n":"T1-37","t":300,"bm":19,"be":15,"rm":-4,"re":11},{"c":"OCT","n":"T1-37","t":400,"bm":17,"be":14,"rm":-5,"re":11},{"c":"OCT","n":"T1-37","t":500,"bm":15,"be":13,"rm":-6,"re":11},{"c":"OCT","n":"T1-37","t":600,"bm":14,"be":13,"rm":-6,"re":11},{"c":"OCT","n":"T1-37","t":700,"bm":13,"be":13,"rm":-6,"re":10},{"c":"OCT","n":"T1-37","t":800,"bm":12,"be":13,"rm":-6,"re":10},{"c":"OCT","n":"T1-37","t":900,"bm":11,"be":13,"rm":-5,"re":9},{"c":"OCT","n":"T1-37","t":1000,"bm":8,"be":10,"rm":-5,"re":8},{"c":"OCT","n":"T1-37","t":1100,"bm":3,"be":7,"rm":-4,"re":7},{"c":"OCT","n":"T1-37","t":1200,"bm":1,"be":6,"rm":-3,"re":6},{"c":"OCT","n":"T1-37","t":1300,"bm":1,"be":5,"rm":-2,"re":5},{"c":"OCT","n":"T1-37","t":1400,"bm":0,"be":5,"rm":-2,"re":5},{"c":"OCT","n":"T1-37","t":1500,"bm":0,"be":5,"rm":-1,"re":5},
{"c":"BZA","n":"T1-37","t":0,"bm":0,"be":3,"rm":0,"re":3},{"c":"BZA","n":"T1-37","t":100,"bm":14,"be":12,"rm":14,"re":13},{"c":"BZA","n":"T1-37","t":200,"bm":17,"be":14,"rm":16,"re":15},{"c":"BZA","n":"T1-37","t":300,"bm":16,"be":13,"rm":15,"re":14},{"c":"BZA","n":"T1-37","t":400,"bm":15,"be":12,"rm":15,"re":13},{"c":"BZA","n":"T1-37","t":500,"bm":15,"be":12,"rm":14,"re":12},{"c":"BZA","n":"T1-37","t":600,"bm":15,"be":11,"rm":14,"re":12},{"c":"BZA","n":"T1-37","t":700,"bm":14,"be":11,"rm":14,"re":11},{"c":"BZA","n":"T1-37","t":800,"bm":14,"be":10,"rm":13,"re":11},{"c":"BZA","n":"T1-37","t":900,"bm":13,"be":10,"rm":12,"re":10},{"c":"BZA","n":"T1-37","t":1000,"bm":11,"be":9,"rm":10,"re":9},{"c":"BZA","n":"T1-37","t":1100,"bm":8,"be":8,"rm":8,"re":8},{"c":"BZA","n":"T1-37","t":1200,"bm":6,"be":7,"rm":5,"re":7},{"c":"BZA","n":"T1-37","t":1300,"bm":4,"be":7,"rm":4,"re":7},{"c":"BZA","n":"T1-37","t":1400,"bm":3,"be":7,"rm":3,"re":7},{"c":"BZA","n":"T1-37","t":1500,"bm":2,"be":6,"rm":3,"re":6},
{"c":"ACP","n":"T1-37","t":0,"bm":0,"be":3,"rm":0,"re":3},{"c":"ACP","n":"T1-37","t":100,"bm":20,"be":15,"rm":19,"re":14},{"c":"ACP","n":"T1-37","t":200,"bm":23,"be":17,"rm":23,"re":17},{"c":"ACP","n":"T1-37","t":300,"bm":20,"be":15,"rm":19,"re":15},{"c":"ACP","n":"T1-37","t":400,"bm":18,"be":14,"rm":16,"re":14},{"c":"ACP","n":"T1-37","t":500,"bm":16,"be":13,"rm":14,"re":13},{"c":"ACP","n":"T1-37","t":600,"bm":16,"be":12,"rm":13,"re":12},{"c":"ACP","n":"T1-37","t":700,"bm":16,"be":12,"rm":12,"re":12},{"c":"ACP","n":"T1-37","t":800,"bm":18,"be":13,"rm":15,"re":12},{"c":"ACP","n":"T1-37","t":900,"bm":10,"be":10,"rm":9,"re":9},{"c":"ACP","n":"T1-37","t":1000,"bm":7,"be":8,"rm":6,"re":8},{"c":"ACP","n":"T1-37","t":1100,"bm":6,"be":8,"rm":5,"re":8},{"c":"ACP","n":"T1-37","t":1200,"bm":6,"be":8,"rm":5,"re":7},{"c":"ACP","n":"T1-37","t":1300,"bm":5,"be":8,"rm":4,"re":7},{"c":"ACP","n":"T1-37","t":1400,"bm":5,"be":7,"rm":4,"re":7},{"c":"ACP","n":"T1-37","t":1500,"bm":5,"be":7,"rm":4,"re":7},
{"c":"ISO","n":"T1-37","t":0,"bm":0,"be":3,"rm":0,"re":3},{"c":"ISO","n":"T1-37","t":100,"bm":5,"be":12,"rm":3,"re":12},{"c":"ISO","n":"T1-37","t":200,"bm":3,"be":13,"rm":1,"re":13},{"c":"ISO","n":"T1-37","t":300,"bm":0,"be":12,"rm":0,"re":13},{"c":"ISO","n":"T1-37","t":400,"bm":-1,"be":12,"rm":0,"re":12},{"c":"ISO","n":"T1-37","t":500,"bm":-1,"be":11,"rm":0,"re":12},{"c":"ISO","n":"T1-37","t":600,"bm":-1,"be":10,"rm":0,"re":11},{"c":"ISO","n":"T1-37","t":700,"bm":0,"be":10,"rm":-1,"re":10},{"c":"ISO","n":"T1-37","t":800,"bm":-1,"be":9,"rm":-1,"re":10},{"c":"ISO","n":"T1-37","t":900,"bm":-1,"be":9,"rm":-1,"re":9},{"c":"ISO","n":"T1-37","t":1000,"bm":-1,"be":8,"rm":-1,"re":9},{"c":"ISO","n":"T1-37","t":1100,"bm":-1,"be":8,"rm":-1,"re":8},{"c":"ISO","n":"T1-37","t":1200,"bm":-1,"be":8,"rm":-2,"re":8},{"c":"ISO","n":"T1-37","t":1300,"bm":-1,"be":8,"rm":-1,"re":8},{"c":"ISO","n":"T1-37","t":1400,"bm":-1,"be":7,"rm":-2,"re":7},{"c":"ISO","n":"T1-37","t":1500,"bm":-1,"be":7,"rm":-1,"re":7},
{"c":"OCT","n":"T1-43","t":0,"bm":0,"be":3,"rm":0,"re":3},{"c":"OCT","n":"T1-43","t":100,"bm":5,"be":12,"rm":4,"re":12},{"c":"OCT","n":"T1-43","t":200,"bm":7,"be":14,"rm":5,"re":14},{"c":"OCT","n":"T1-43","t":300,"bm":6,"be":14,"rm":4,"re":14},{"c":"OCT","n":"T1-43","t":400,"bm":5,"be":14,"rm":4,"re":13},{"c":"OCT","n":"T1-43","t":500,"bm":4,"be":13,"rm":3,"re":13},{"c":"OCT","n":"T1-43","t":600,"bm":4,"be":13,"rm":3,"re":12},{"c":"OCT","n":"T1-43","t":700,"bm":3,"be":12,"rm":3,"re":11},{"c":"OCT","n":"T1-43","t":800,"bm":3,"be":10,"rm":2,"re":10},{"c":"OCT","n":"T1-43","t":900,"bm":2,"be":9,"rm":2,"re":8},{"c":"OCT","n":"T1-43","t":1000,"bm":2,"be":7,"rm":1,"re":7},{"c":"OCT","n":"T1-43","t":1100,"bm":1,"be":6,"rm":1,"re":6},{"c":"OCT","n":"T1-43","t":1200,"bm":1,"be":5,"rm":0,"re":5},{"c":"OCT","n":"T1-43","t":1300,"bm":0,"be":4,"rm":0,"re":4},{"c":"OCT","n":"T1-43","t":1400,"bm":0,"be":4,"rm":0,"re":4},{"c":"OCT","n":"T1-43","t":1500,"bm":0,"be":4,"rm":0,"re":4},
{"c":"BZA","n":"T1-43","t":0,"bm":0,"be":3,"rm":0,"re":3,"s":"***"},{"c":"BZA","n":"T1-43","t":100,"bm":2,"be":7,"rm":15,"re":13},{"c":"BZA","n":"T1-43","t":200,"bm":3,"be":8,"rm":14,"re":14},{"c":"BZA","n":"T1-43","t":300,"bm":3,"be":8,"rm":10,"re":12},{"c":"BZA","n":"T1-43","t":400,"bm":2,"be":8,"rm":8,"re":11},{"c":"BZA","n":"T1-43","t":500,"bm":3,"be":8,"rm":8,"re":10},{"c":"BZA","n":"T1-43","t":600,"bm":2,"be":8,"rm":7,"re":10},{"c":"BZA","n":"T1-43","t":700,"bm":3,"be":7,"rm":7,"re":9},{"c":"BZA","n":"T1-43","t":800,"bm":2,"be":7,"rm":7,"re":9},{"c":"BZA","n":"T1-43","t":900,"bm":1,"be":7,"rm":8,"re":9},{"c":"BZA","n":"T1-43","t":1000,"bm":1,"be":7,"rm":7,"re":8},{"c":"BZA","n":"T1-43","t":1100,"bm":1,"be":7,"rm":5,"re":8},{"c":"BZA","n":"T1-43","t":1200,"bm":1,"be":7,"rm":4,"re":8},{"c":"BZA","n":"T1-43","t":1300,"bm":1,"be":7,"rm":4,"re":8},{"c":"BZA","n":"T1-43","t":1400,"bm":0,"be":7,"rm":5,"re":8},{"c":"BZA","n":"T1-43","t":1500,"bm":1,"be":7,"rm":6,"re":8},
{"c":"ACP","n":"T1-43","t":0,"bm":0,"be":3,"rm":0,"re":3},{"c":"ACP","n":"T1-43","t":100,"bm":2,"be":7,"rm":4,"re":11},{"c":"ACP","n":"T1-43","t":200,"bm":1,"be":7,"rm":3,"re":10},{"c":"ACP","n":"T1-43","t":300,"bm":1,"be":7,"rm":2,"re":9},{"c":"ACP","n":"T1-43","t":400,"bm":2,"be":7,"rm":2,"re":8},{"c":"ACP","n":"T1-43","t":500,"bm":1,"be":7,"rm":2,"re":8},{"c":"ACP","n":"T1-43","t":600,"bm":1,"be":6,"rm":2,"re":8},{"c":"ACP","n":"T1-43","t":700,"bm":0,"be":6,"rm":1,"re":8},{"c":"ACP","n":"T1-43","t":800,"bm":1,"be":6,"rm":2,"re":8},{"c":"ACP","n":"T1-43","t":900,"bm":1,"be":6,"rm":1,"re":7},{"c":"ACP","n":"T1-43","t":1000,"bm":0,"be":6,"rm":1,"re":7},{"c":"ACP","n":"T1-43","t":1100,"bm":0,"be":6,"rm":1,"re":7},{"c":"ACP","n":"T1-43","t":1200,"bm":1,"be":6,"rm":1,"re":7},{"c":"ACP","n":"T1-43","t":1300,"bm":0,"be":6,"rm":1,"re":7},{"c":"ACP","n":"T1-43","t":1400,"bm":1,"be":6,"rm":1,"re":7},{"c":"ACP","n":"T1-43","t":1500,"bm":1,"be":6,"rm":1,"re":7},
{"c":"ISO","n":"T1-43","t":0,"bm":0,"be":3,"rm":0,"re":3},{"c":"ISO","n":"T1-43","t":100,"bm":1,"be":6,"rm":0,"re":7},{"c":"ISO","n":"T1-43","t":200,"bm":0,"be":6,"rm":0,"re":7},{"c":"ISO","n":"T1-43","t":300,"bm":0,"be":6,"rm":-1,"re":7},{"c":"ISO","n":"T1-43","t":400,"bm":-1,"be":6,"rm":-1,"re":7},{"c":"ISO","n":"T1-43","t":500,"bm":-1,"be":6,"rm":-2,"re":7},{"c":"ISO","n":"T1-43","t":600,"bm":-1,"be":6,"rm":-2,"re":7},{"c":"ISO","n":"T1-43","t":700,"bm":-1,"be":6,"rm":-2,"re":7},{"c":"ISO","n":"T1-43","t":800,"bm":-1,"be":6,"rm":-3,"re":7},{"c":"ISO","n":"T1-43","t":900,"bm":-2,"be":6,"rm":-3,"re":7},{"c":"ISO","n":"T1-43","t":1000,"bm":-1,"be":6,"rm":-3,"re":7},{"c":"ISO","n":"T1-43","t":1100,"bm":0,"be":6,"rm":-3,"re":7},{"c":"ISO","n":"T1-43","t":1200,"bm":-1,"be":7,"rm":-2,"re":7},{"c":"ISO","n":"T1-43","t":1300,"bm":0,"be":7,"rm":-1,"re":7},{"c":"ISO","n":"T1-43","t":1400,"bm":1,"be":6,"rm":0,"re":6},{"c":"ISO","n":"T1-43","t":1500,"bm":0,"be":6,"rm":0,"re":6}
]},
"bounds":"flush",
"spacing":{"row":58.8,"column":32},
"facet":{
"row":{"field":"n","type":"nominal","title":null,"header":{"labels":false,"title":null}},
"column":{"field":"c","type":"nominal","title":null,"sort":["OCT","BZA","ACP","ISO"],"header":{"labelOrient":"bottom","labelFontSize":16,"labelPadding":-6,"labelColor":"#000","labelBaseline":"top","labelFont":"Liberation Sans"}}
},
"spec":{
"width":114,"height":87.6,
"encoding":{"x":{"field":"t","type":"quantitative","scale":{"domain":[-40,1500],"nice":false,"zero":false},"axis":null}},
"layer":[
{"transform":[{"filter":"datum.t==0"}],"mark":{"type":"rect","color":"#e6e6e6"},"encoding":{"x":{"datum":0,"type":"quantitative","scale":{"domain":[-40,1500],"nice":false,"zero":false},"axis":null},"x2":{"datum":750},"y":{"datum":45,"type":"quantitative","scale":{"domain":[-25,48],"nice":false,"zero":false},"axis":null},"y2":{"datum":-15}}},
{"mark":{"type":"errorband","color":"#0000ff","band":{"opacity":0.2},"borders":{"opacity":0.3,"strokeWidth":1}},"encoding":{"y":{"field":"bm","type":"quantitative","scale":{"domain":[-25,48],"nice":false,"zero":false},"axis":null},"yError":{"field":"be"}}},
{"mark":{"type":"errorband","color":"#ff0000","band":{"opacity":0.2},"borders":{"opacity":0.3,"strokeWidth":1}},"encoding":{"y":{"field":"rm","type":"quantitative","scale":{"domain":[-25,48],"nice":false,"zero":false},"axis":null},"yError":{"field":"re"}}},
{"transform":[{"filter":"datum.t==0"}],"mark":{"type":"rule","color":"#888888","strokeWidth":1.5},"encoding":{"x":{"datum":0,"type":"quantitative","scale":{"domain":[-40,1500],"nice":false,"zero":false},"axis":null},"x2":{"datum":1500},"y":{"datum":0,"type":"quantitative","scale":{"domain":[-25,48],"nice":false,"zero":false},"axis":null}}},
{"mark":{"type":"line","color":"#0000ff","strokeWidth":1.3},"encoding":{"y":{"field":"bm","type":"quantitative","scale":{"domain":[-25,48],"nice":false,"zero":false},"axis":null}}},
{"mark":{"type":"line","color":"#ff0000","strokeWidth":1.3},"encoding":{"y":{"field":"rm","type":"quantitative","scale":{"domain":[-25,48],"nice":false,"zero":false},"axis":null}}},
{"transform":[{"filter":"datum.s"}],"mark":{"type":"text","fontSize":30,"align":"center","baseline":"alphabetic","color":"#000"},"encoding":{"x":{"datum":350,"type":"quantitative","scale":{"domain":[-40,1500],"nice":false,"zero":false},"axis":null},"y":{"datum":37.5,"type":"quantitative","scale":{"domain":[-25,48],"nice":false,"zero":false},"axis":null},"text":{"field":"s"}}},
{"transform":[{"filter":"datum.c=='ISO' && datum.t==0"}],"mark":{"type":"text","fontSize":16,"align":"left","baseline":"middle","color":"#000"},"encoding":{"x":{"datum":1607,"type":"quantitative","scale":{"domain":[-40,1500],"nice":false,"zero":false},"axis":null},"y":{"datum":11.5,"type":"quantitative","scale":{"domain":[-25,48],"nice":false,"zero":false},"axis":null},"text":{"field":"n"}}},
{"transform":[{"filter":"datum.n=='T1-17' && datum.c=='OCT' && datum.t==0"}],"mark":{"type":"text","fontSize":28,"fontWeight":"bold","align":"left","baseline":"alphabetic","color":"#000"},"encoding":{"x":{"datum":-649,"type":"quantitative","scale":{"domain":[-40,1500],"nice":false,"zero":false},"axis":null},"y":{"datum":44.2,"type":"quantitative","scale":{"domain":[-25,48],"nice":false,"zero":false},"axis":null},"text":{"value":"b"}}},
{"transform":[{"filter":"datum.n=='T1-17' && datum.c=='ISO' && datum.t==0"}],
"layer":[
{"mark":{"type":"rule","color":"#808080","strokeWidth":1.5},"encoding":{"x":{"datum":2154,"type":"quantitative","scale":{"domain":[-40,1500],"nice":false,"zero":false},"axis":null},"y":{"datum":56.7,"type":"quantitative","scale":{"domain":[-25,48],"nice":false,"zero":false},"axis":null},"y2":{"datum":66.7}}},
{"mark":{"type":"rule","color":"#808080","strokeWidth":1.5},"encoding":{"x":{"datum":2154,"type":"quantitative","scale":{"domain":[-40,1500],"nice":false,"zero":false},"axis":null},"x2":{"datum":2654},"y":{"datum":56.7,"type":"quantitative","scale":{"domain":[-25,48],"nice":false,"zero":false},"axis":null}}},
{"mark":{"type":"text","fontSize":16,"align":"right","baseline":"middle","dx":-3,"color":"#000"},"encoding":{"x":{"datum":2154,"type":"quantitative","scale":{"domain":[-40,1500],"nice":false,"zero":false},"axis":null},"y":{"datum":60.8,"type":"quantitative","scale":{"domain":[-25,48],"nice":false,"zero":false},"axis":null},"text":{"value":"0.1 ΔF/F"}}},
{"mark":{"type":"text","fontSize":16,"align":"center","baseline":"middle","color":"#000"},"encoding":{"x":{"datum":2384,"type":"quantitative","scale":{"domain":[-40,1500],"nice":false,"zero":false},"axis":null},"y":{"datum":40,"type":"quantitative","scale":{"domain":[-25,48],"nice":false,"zero":false},"axis":null},"text":{"value":"500ms"}}}
]}
]
}
}
]
}
